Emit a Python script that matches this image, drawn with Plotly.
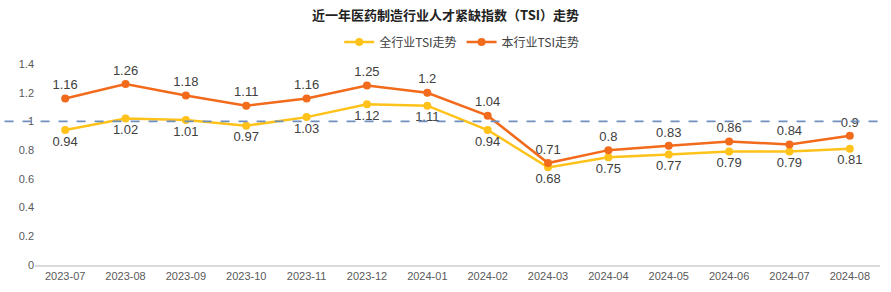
import plotly.graph_objects as go

months = ["2023-07", "2023-08", "2023-09", "2023-10", "2023-11", "2023-12", "2024-01",
          "2024-02", "2024-03", "2024-04", "2024-05", "2024-06", "2024-07", "2024-08"]
all_industry = [0.94, 1.02, 1.01, 0.97, 1.03, 1.12, 1.11, 0.94, 0.68, 0.75, 0.77, 0.79, 0.79, 0.81]
this_industry = [1.16, 1.26, 1.18, 1.11, 1.16, 1.25, 1.2, 1.04, 0.71, 0.8, 0.83, 0.86, 0.84, 0.9]
y_ticks = [0, 0.2, 0.4, 0.6, 0.8, 1, 1.2, 1.4]
ref_value = 1

FONT = "Liberation Sans, Arial, Noto Sans CJK SC, sans-serif"
YELLOW = "#FFC21A"
ORANGE = "#F26A1B"

fig = go.Figure()
fig.add_trace(go.Scatter(
    x=months, y=all_industry, name="全行业TSI走势", mode="lines+markers+text",
    line=dict(color=YELLOW, width=2.5), marker=dict(size=8, color=YELLOW),
    text=[str(v) for v in all_industry], textposition="bottom center",
    textfont=dict(size=13, color="#404040", family=FONT), cliponaxis=False,
))
fig.add_trace(go.Scatter(
    x=months, y=this_industry, name="本行业TSI走势", mode="lines+markers+text",
    line=dict(color=ORANGE, width=2.5), marker=dict(size=8, color=ORANGE),
    text=[str(v) for v in this_industry], textposition="top center",
    textfont=dict(size=13, color="#404040", family=FONT), cliponaxis=False,
))
fig.add_shape(type="line", xref="paper", yref="y", x0=-0.036, x1=1.0,
              y0=ref_value, y1=ref_value,
              line=dict(color="#6F8FBF", width=1.8, dash="dash"), layer="above")

fig.update_layout(
    width=891, height=292,
    margin=dict(l=35, r=11, t=64, b=27, autoexpand=False),
    paper_bgcolor="white", plot_bgcolor="white",
    font=dict(family=FONT, color="#404040"),
    title=dict(text="<b>近一年医药制造行业人才紧缺指数（TSI）走势</b>",
               x=0.5, xanchor="center", y=1 - 15 / 292, yanchor="middle",
               font=dict(size=13, color="#222222", family="Noto Sans CJK SC, sans-serif")),
    legend=dict(orientation="h", x=0.505, xanchor="center", y=(265 - 42) / 201,
                yanchor="middle", font=dict(size=12, color="#404040", family="Noto Sans CJK SC, sans-serif"),
                itemwidth=30, tracegroupgap=0),
    showlegend=True,
)
fig.update_xaxes(type="category", showgrid=False, showline=True, linecolor="#D9D9D9",
                 linewidth=1.5, ticks="", tickfont=dict(size=11, color="#595959"),
                 range=[-0.5, len(months) - 0.5], automargin=False)
fig.update_yaxes(range=[0, 1.4], tickvals=y_ticks, ticktext=[f"{v:g}" for v in y_ticks],
                 showgrid=False, zeroline=False, showline=False, ticks="",
                 tickfont=dict(size=11, color="#595959"), automargin=False)

fig.write_html("out.html")
